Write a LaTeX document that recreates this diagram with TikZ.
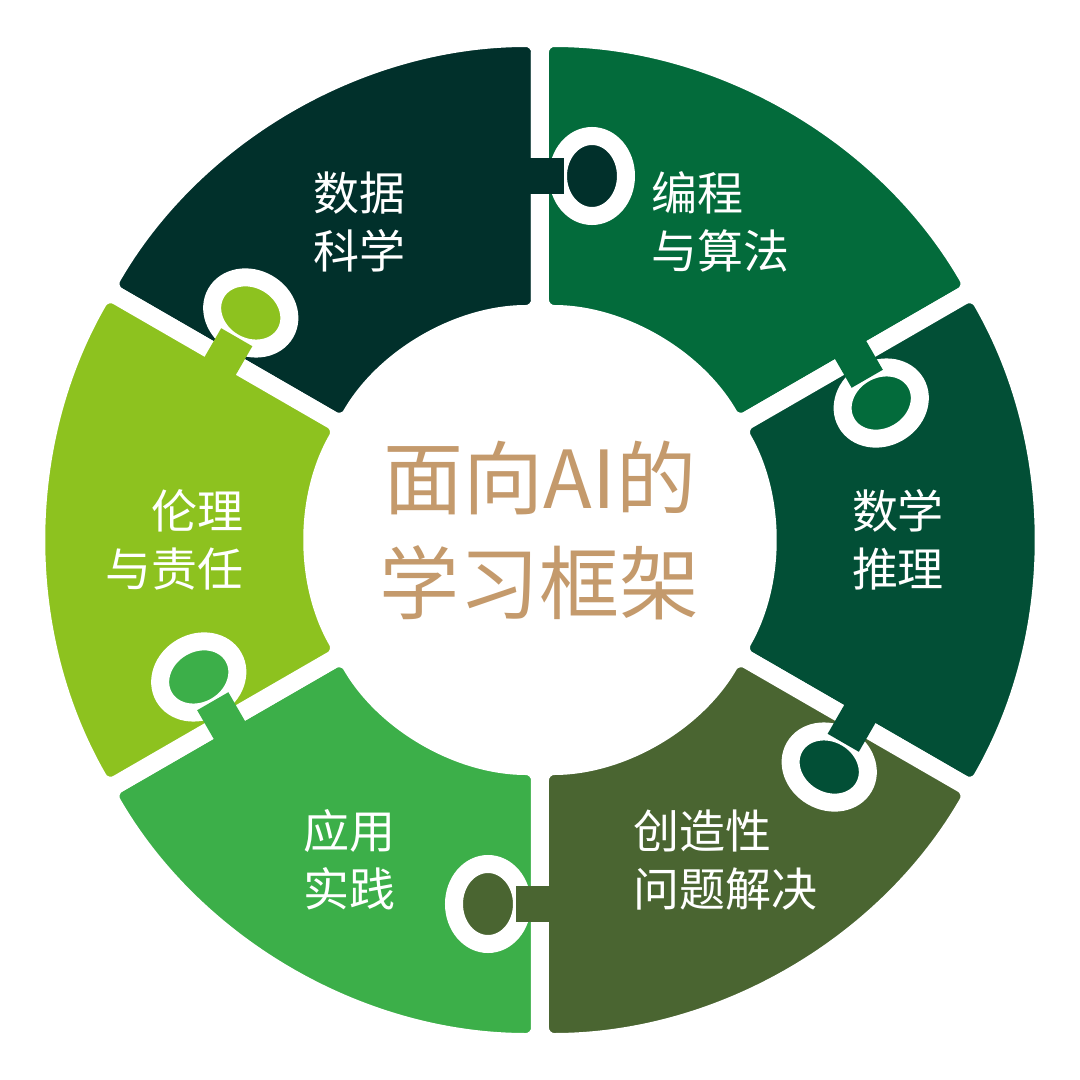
\documentclass[tikz,border=0pt]{standalone}
\usepackage{fontspec}
\newfontfamily\cjk{Noto Sans CJK SC}
\begin{document}
\begin{tikzpicture}[x=1pt,y=1pt]
\definecolor{cA}{HTML}{01302B}
\definecolor{cB}{HTML}{036B3B}
\definecolor{cC}{HTML}{024F36}
\definecolor{cD}{HTML}{4A6531}
\definecolor{cE}{HTML}{3CAF49}
\definecolor{cF}{HTML}{8DC21F}
\definecolor{tan}{HTML}{C49A6C}
\tikzset{piece/.style={draw=white,line width=18pt,rounded corners=14pt},
  lab/.style={text=white,font=\cjk\fontsize{46}{58}\selectfont},
  ttl/.style={text=tan,font=\cjk\fontsize{80}{105}\selectfont,align=center}}
\fill[white] (-540,-540) rectangle (540,540);
\useasboundingbox (-540,-540) rectangle (540,540);
\def\R{502}\def\r{226}
\foreach \a/\b/\c in {150/90/cA,90/30/cB,30/-30/cC,-30/-90/cD,-90/-150/cE,210/150/cF}{
  \path[piece,fill=\c] (\a:\R) arc[start angle=\a,end angle=\b,radius=\R] -- (\b:\r) arc[start angle=\b,end angle=\a,radius=\r] -- cycle;
}
\foreach \t/\c in {90/cA,30/cB,-30/cC,-90/cD,-150/cE,150/cF}{
  \begin{scope}[rotate=\t]
    \draw[draw=white,line width=18pt,fill=\c] (364,-52) ellipse[x radius=40,y radius=34];
    \fill[\c] (346,12) rectangle (382,-24);
  \end{scope}
}
\node[lab,align=center] (a) at (-180,318) {数据\\科学};
\node[lab,align=left,anchor=west] (b) at (108,318) {编程\\与算法};
\node[lab,align=left] (c) at (358,0) {数学\\推理};
\node[lab,align=left,anchor=west] (d) at (90,-320) {创造性\\问题解决};
\node[lab,align=center] (e) at (-190,-320) {应用\\实践};
\node[lab,align=right,anchor=east] (f) at (-293,0) {伦理\\与责任};
\node[ttl] (t) at (0,10) {面向AI的\\学习框架};
\end{tikzpicture}
\end{document}
